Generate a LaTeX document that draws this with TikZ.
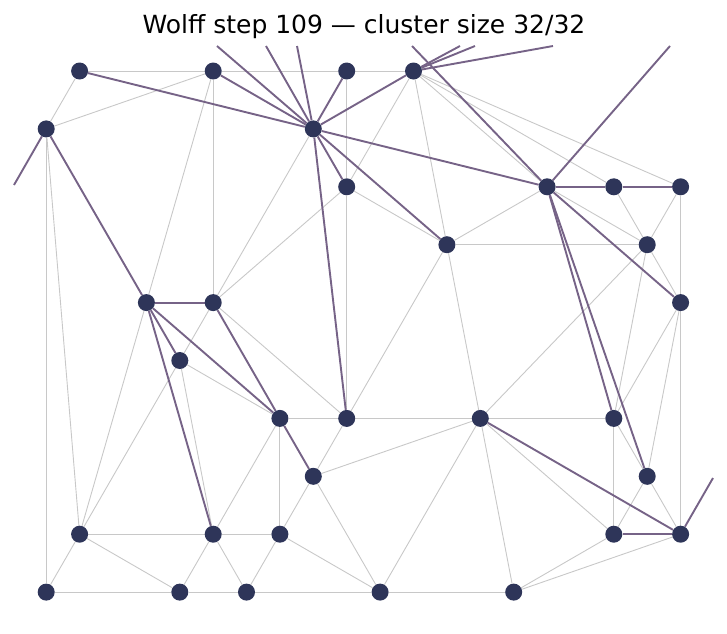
\documentclass[tikz,border=0pt]{standalone}
\usepackage{fontspec}
\setmainfont{DejaVu Sans}
\usetikzlibrary{backgrounds}
\definecolor{nodec}{RGB}{46,53,89}
\definecolor{clus}{RGB}{118,99,135}
\definecolor{bond}{RGB}{200,200,200}
\begin{document}
\begin{tikzpicture}[x=1pt,y=-1pt,
  site/.style={circle,fill=nodec,minimum size=17pt,inner sep=0pt},
  bondline/.style={draw=bond,line width=0.9pt},
  clusterline/.style={draw=clus,line width=1.9pt}]
\useasboundingbox (0,0) rectangle (727,633);
\node[anchor=base,font=\fontsize{25}{30}\selectfont] (title) at (364,33.5) {Wolff step 109 — cluster size 32/32};
% sites
\node[site] (A) at (79.6,71) {};
\node[site] (B) at (213.2,71) {};
\node[site] (C) at (346.7,71) {};
\node[site] (D) at (413.5,71) {};
\node[site] (E) at (46.2,128.9) {};
\node[site] (F) at (313.3,128.9) {};
\node[site] (G) at (346.7,186.8) {};
\node[site] (H) at (547.1,186.8) {};
\node[site] (I) at (613.8,186.8) {};
\node[site] (J) at (680.6,186.8) {};
\node[site] (K) at (446.9,244.7) {};
\node[site] (L) at (647.2,244.7) {};
\node[site] (M) at (146.4,302.6) {};
\node[site] (N) at (213.2,302.6) {};
\node[site] (O) at (680.6,302.6) {};
\node[site] (P) at (179.8,360.5) {};
\node[site] (Q) at (279.9,418.4) {};
\node[site] (R) at (346.7,418.4) {};
\node[site] (S) at (480.3,418.4) {};
\node[site] (T) at (613.8,418.4) {};
\node[site] (U) at (313.3,476.3) {};
\node[site] (V) at (647.2,476.3) {};
\node[site] (W) at (79.6,534.2) {};
\node[site] (X) at (213.2,534.2) {};
\node[site] (Y) at (279.9,534.2) {};
\node[site] (Z) at (613.8,534.2) {};
\node[site] (AA) at (680.6,534.2) {};
\node[site] (AB) at (46.2,592.1) {};
\node[site] (AC) at (179.8,592.1) {};
\node[site] (AD) at (246.5,592.1) {};
\node[site] (AE) at (380.1,592.1) {};
\node[site] (AF) at (513.7,592.1) {};
% free ends at the plot boundary
\coordinate (f1) at (217,46);
\coordinate (f2) at (266,46);
\coordinate (f3) at (297,46);
\coordinate (d1) at (460,46);
\coordinate (d2) at (475,46);
\coordinate (d3) at (553,46);
\coordinate (h1) at (412,46);
\coordinate (h2) at (670,46);
\coordinate (e1) at (14,185);
\coordinate (a1) at (713,478);
\begin{pgfonlayer}{background}
% ordinary bonds
\foreach \u/\v in {A/B,B/C,C/D,A/E,E/B,B/N,B/M,E/AB,E/W,C/G,G/R,F/N,G/N,G/D,G/K,D/K,D/H,D/I,D/J,
  H/K,H/L,I/L,J/L,K/L,K/R,K/S,L/T,L/S,L/O,J/O,O/AA,O/T,O/V,R/Q,R/S,S/T,T/Z,T/V,V/Z,V/AA,
  S/Z,S/AF,S/AE,S/U,AF/Z,AF/AA,AE/AF,AB/AC,AC/AD,AD/AE,U/AE,Y/AE,U/R,U/Y,Q/Y,Q/X,X/Y,W/X,
  X/AC,X/AD,Y/AD,W/AC,W/AB,W/M,W/P,N/P,P/X,P/Q,N/R}
  \draw[bondline] (\u) -- (\v);
% cluster bonds
\foreach \u/\v in {A/F,B/F,C/F,D/F,F/G,F/K,F/R,F/H,E/M,M/N,M/P,M/Q,M/X,N/Q,Q/U,H/I,I/J,H/O,H/T,H/V,S/AA,Z/AA,
  F/f1,F/f2,F/f3,D/d1,D/d2,D/d3,H/h1,H/h2,E/e1,AA/a1}
  \draw[clusterline] (\u) -- (\v);
\end{pgfonlayer}
\end{tikzpicture}
\end{document}
